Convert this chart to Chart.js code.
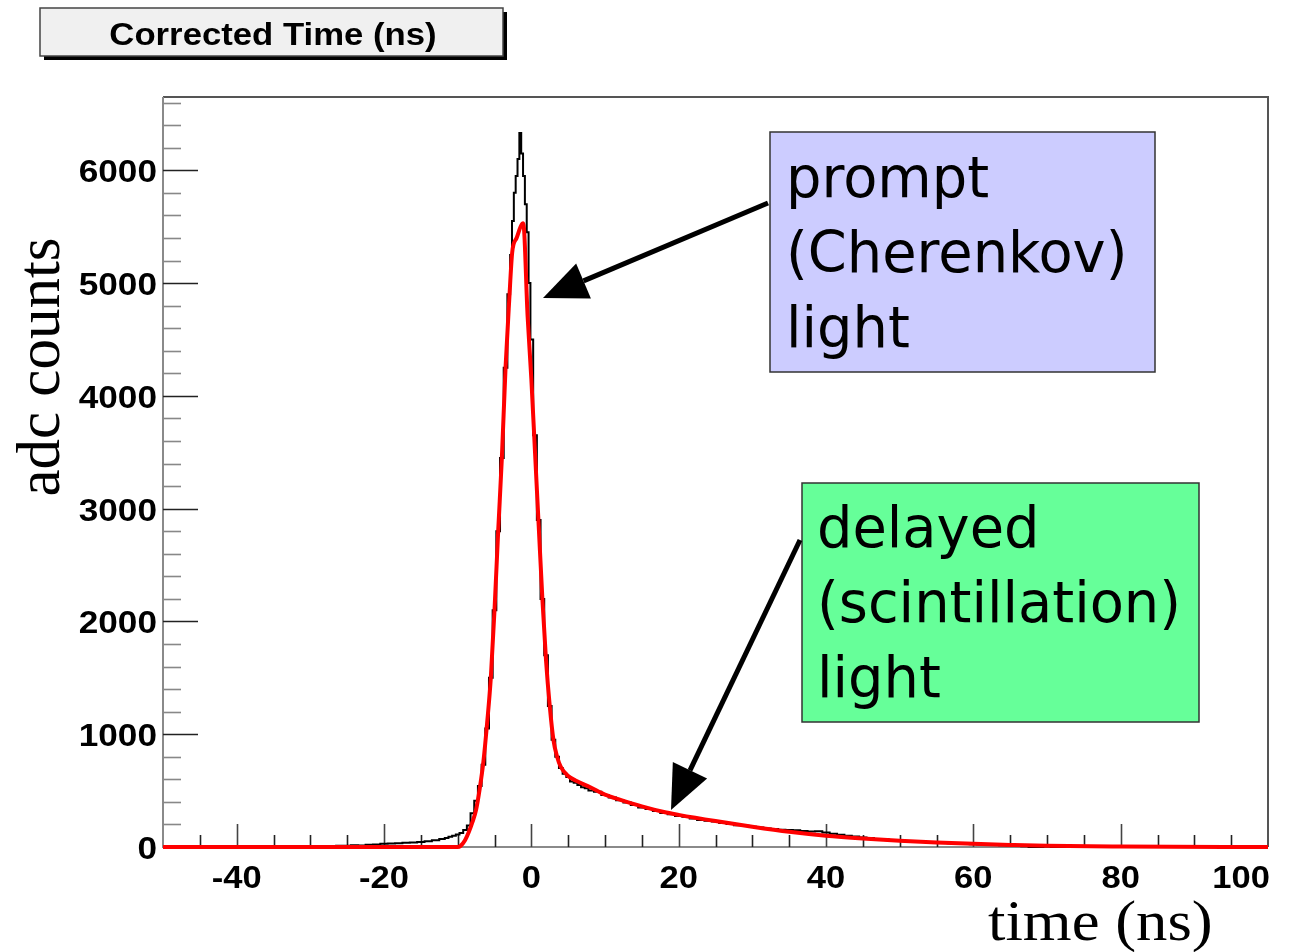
<!DOCTYPE html>
<html>
<head>
<meta charset="utf-8">
<script src="https://cdn.jsdelivr.net/npm/chart.js@4.4.1/dist/chart.umd.min.js"></script>
<style>
  body { margin: 0; background: #fff; }
  #wrap { width: 1301px; height: 952px; }
</style>
</head>
<body>
<div id="wrap"><canvas id="chart" width="1301" height="952"></canvas></div>
<script>
// histogram bin centres (ns) and counts
const binTime = [
  -50,-49,-48,-47,-46,-45,-44,-43,-42,-41,-40,-39,-38,-37,-36,-35,-34,-33,
  -32,-31,-30,-29,-28,-27,-26,-25,-24,-23,-22,-21,-20,-19,-18,-17,-16,-15,-14,-13,-12,
  -11.5,-11,-10.5,-10,-9.5,-9,-8.5,-8,-7.5,-7,-6.5,-6,-5.5,-5,-4.5,-4,-3.5,
  -3,-2.75,-2.5,-2.25,-2,-1.75,-1.5,-1.25,-1,-0.75,-0.5,-0.25,
  0,0.5,1,1.5,2,2.5,3,3.5,4,4.5,5,5.5,6,6.5,7,7.5,8,
  9,10,11,12,13,14,15,16,17,18,19,20,21,22,23,24,25,26,27,28,29,30,31,32,33,34,35,36,37,38,39,
  40,41,42,43,44,45,46,47,48,49,50,51,52,53,54,55,56,57,58,59,60,61,62,63,64,65,66,67,68,69,
  70,71,72,73,74,75,80,85,90,95,100
];
const binCounts = [
  0,0,0,0,0,0,0,0,0,0,0,0,0,0,0,0,0,0,
  2,0,5,3,8,6,10,12,15,14,20,22,28,30,33,38,40,45,52,60,72,
  80,90,100,110,125,150,190,300,410,540,730,1050,1500,2100,2800,3450,4250,
  4900,5250,5550,5800,5950,6100,6330,6150,5950,5700,5450,5000,
  4500,3650,2900,2200,1700,1250,950,800,700,650,620,580,570,550,530,520,500,
  490,460,440,415,395,372,350,336,320,302,290,275,268,252,240,232,225,212,205,192,188,180,172,165,160,152,150,148,142,138,140,
  128,118,108,100,92,85,80,72,68,62,58,52,50,45,42,40,36,34,30,28,25,22,20,18,15,14,10,6,0,0,
  5,0,0,0,0,0,0,0,0,0,0
];

// fitted curve (red)
const fitTime = [
  -50,-10,-9.6,-9,-8.5,-8,-7.5,-7,-6.5,-6,-5.5,-5,-4.5,-4,-3.5,-3,-2.6,-2,-1.1,-0.5,
  0,0.5,1,1.5,2,2.5,3,3.5,4,5,6,8,10,12,15,18,20,25,30,35,40,45,50,55,60,65,70,80,100
];
const fitCounts = [
  0,0,10,60,130,220,330,520,760,1100,1500,2100,2800,3450,4250,4850,5270,5400,5530,4700,
  4150,3500,2850,2200,1650,1250,950,800,710,630,590,530,465,420,360,310,285,230,180,135,100,75,55,40,28,18,10,4,0
];

const xMajor = [-40, -20, 0, 20, 40, 60, 80, 100];
const yMajor = [0, 1000, 2000, 3000, 4000, 5000, 6000];

const titleText = "Corrected Time (ns)";
const yTitle = "adc counts";
const xTitle = "time (ns)";
const promptLines = ["prompt", "(Cherenkov)", "light"];
const delayedLines = ["delayed", "(scintillation)", "light"];

function stretchText(ctx, txt, x, y, sx, align) {
  ctx.save();
  ctx.translate(x, y);
  ctx.scale(sx, 1);
  ctx.textAlign = align;
  ctx.fillText(txt, 0, 0);
  ctx.restore();
}

function arrow(ctx, x0, y0, x1, y1) {
  const a = Math.atan2(y1 - y0, x1 - x0);
  const hl = 44, hw = 19;
  const bx = x1 - hl * Math.cos(a), by = y1 - hl * Math.sin(a);
  ctx.save();
  ctx.strokeStyle = "#000"; ctx.fillStyle = "#000"; ctx.lineWidth = 5;
  ctx.beginPath(); ctx.moveTo(x0, y0); ctx.lineTo(bx, by); ctx.stroke();
  ctx.beginPath();
  ctx.moveTo(x1, y1);
  ctx.lineTo(bx + hw * Math.sin(a), by - hw * Math.cos(a));
  ctx.lineTo(bx - hw * Math.sin(a), by + hw * Math.cos(a));
  ctx.closePath(); ctx.fill();
  ctx.restore();
}

function noteBox(ctx, x, y, w, h, fill, lines, tx, ty, lh) {
  ctx.save();
  ctx.fillStyle = fill; ctx.fillRect(x, y, w, h);
  ctx.strokeStyle = "#333"; ctx.lineWidth = 1.5; ctx.strokeRect(x, y, w, h);
  ctx.fillStyle = "#000";
  ctx.font = '57px "DejaVu Sans"';
  ctx.textBaseline = "alphabetic";
  lines.forEach((l, i) => stretchText(ctx, l, tx, ty + i * lh, 0.98, "left"));
  ctx.restore();
}

const axesPlugin = {
  id: "rootAxes",
  beforeDatasetsDraw(chart) {
    const { ctx, chartArea: a, scales: { x, y } } = chart;
    ctx.save();
    // frame
    ctx.strokeStyle = "#555"; ctx.lineWidth = 2;
    ctx.beginPath();
    ctx.moveTo(a.left, a.top); ctx.lineTo(a.right, a.top); ctx.lineTo(a.right, a.bottom);
    ctx.stroke();
    ctx.strokeStyle = "#8a8a8a";
    ctx.beginPath();
    ctx.moveTo(a.left, a.top); ctx.lineTo(a.left, a.bottom); ctx.lineTo(a.right, a.bottom);
    ctx.stroke();
    // y ticks
    for (let v = 0; v <= 6600; v += 200) {
      const py = Math.round(y.getPixelForValue(v)) + 0.5;
      const major = v % 1000 === 0;
      ctx.strokeStyle = major ? "#222" : "#888";
      ctx.lineWidth = 1.6;
      ctx.beginPath(); ctx.moveTo(a.left, py); ctx.lineTo(a.left + (major ? 35 : 18), py); ctx.stroke();
    }
    // x ticks
    for (let t = -45; t <= 95; t += 5) {
      const px = Math.round(x.getPixelForValue(t)) + 0.5;
      const major = t % 20 === 0;
      ctx.strokeStyle = major ? "#444" : "#222";
      ctx.lineWidth = 1.6;
      ctx.beginPath(); ctx.moveTo(px, a.bottom); ctx.lineTo(px, a.bottom - (major ? 23 : 12)); ctx.stroke();
    }
    ctx.restore();
  },
  afterDraw(chart) {
    const { ctx, chartArea: a, scales: { x, y } } = chart;
    ctx.save();
    ctx.fillStyle = "#000";
    ctx.font = 'bold 32px "Liberation Sans"';
    ctx.textBaseline = "alphabetic";
    yMajor.forEach(v => stretchText(ctx, String(v), 157, y.getPixelForValue(v) + 12, 1.1, "right"));
    xMajor.forEach((t, i) => {
      const last = i === xMajor.length - 1;
      stretchText(ctx, String(t), last ? a.right + 2 : x.getPixelForValue(t), 888, 1.08, last ? "right" : "center");
    });

    // title box
    ctx.fillStyle = "#000"; ctx.fillRect(44, 12, 463, 48);
    ctx.fillStyle = "#f0f0f0"; ctx.fillRect(40, 8, 463, 48);
    ctx.strokeStyle = "#444"; ctx.lineWidth = 1.5; ctx.strokeRect(40, 8, 463, 48);
    ctx.fillStyle = "#000";
    ctx.font = 'bold 31px "Liberation Sans"';
    stretchText(ctx, titleText, 273, 45, 1.12, "center");

    // axis titles
    ctx.font = '61px "Liberation Serif"';
    ctx.save();
    ctx.translate(59, 367); ctx.rotate(-Math.PI / 2);
    ctx.textAlign = "center"; ctx.fillText(yTitle, 0, 0);
    ctx.restore();
    ctx.font = '56px "Liberation Serif"';
    stretchText(ctx, xTitle, 988, 940, 1.12, "left");

    // annotations
    noteBox(ctx, 770, 132, 385, 240, "#ccccff", promptLines, 786, 197, 75);
    arrow(ctx, 768, 203, 543, 298);
    noteBox(ctx, 802, 483, 397, 239, "#66ff99", delayedLines, 817, 547, 75);
    arrow(ctx, 800, 540, 671, 810);
    ctx.restore();
  }
};

const ctx = document.getElementById("chart").getContext("2d");
new Chart(ctx, {
  type: "line",
  data: {
    datasets: [
      {
        label: "fit",
        data: fitTime.map((t, i) => ({ x: t, y: fitCounts[i] })),
        borderColor: "#ff0000", borderWidth: 4, pointRadius: 0,
        cubicInterpolationMode: "monotone", order: 0, clip: false
      },
      {
        label: "data",
        data: binTime.map((t, i) => ({ x: t, y: binCounts[i] })),
        borderColor: "#000", borderWidth: 2, pointRadius: 0, stepped: "middle",
        order: 1, clip: false
      }
    ]
  },
  options: {
    responsive: false,
    animation: false,
    layout: { padding: { left: 163, top: 97, right: 33, bottom: 105 } },
    plugins: { legend: { display: false }, tooltip: { enabled: false } },
    scales: {
      x: { type: "linear", min: -50, max: 100, display: false },
      y: { type: "linear", min: 0, max: 6650, display: false }
    }
  },
  plugins: [axesPlugin]
});
</script>
</body>
</html>
